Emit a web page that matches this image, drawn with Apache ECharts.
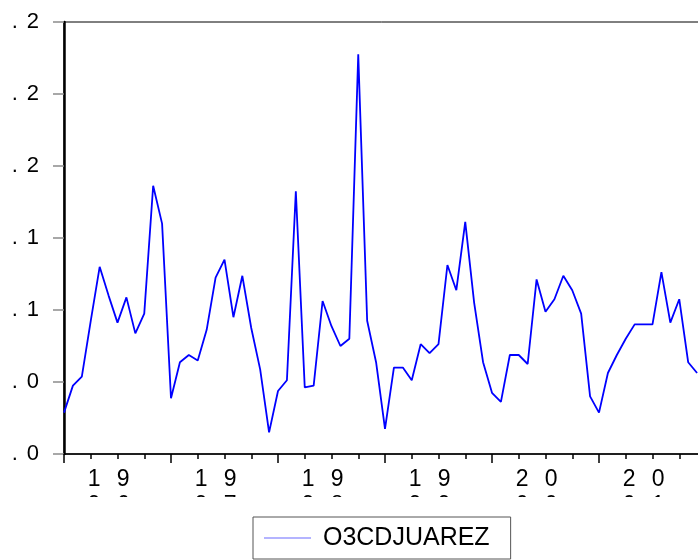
<!DOCTYPE html>
<html>
<head>
<meta charset="utf-8">
<script src="https://cdn.jsdelivr.net/npm/echarts@6/dist/echarts.min.js"></script>
<style>
  html, body { margin: 0; padding: 0; background: #fff; }
  #chart { width: 698px; height: 560px; }
</style>
</head>
<body>
<div id="chart"></div>
<script>
// monthly series, Jan 1996 .. Dec 2001
var years = ['1996', '1997', '1998', '1999', '2000', '2001', '2002'];
var seriesName = 'O3CDJUAREZ';
var o3Values = [
  0.063, 0.078, 0.083, 0.114, 0.144, 0.128, 0.113, 0.127, 0.107, 0.118, 0.189, 0.168,
  0.071, 0.091, 0.095, 0.092, 0.109, 0.138, 0.148, 0.116, 0.139, 0.110, 0.087, 0.052,
  0.075, 0.081, 0.186, 0.077, 0.078, 0.125, 0.111, 0.100, 0.104, 0.262, 0.114, 0.091,
  0.054, 0.088, 0.088, 0.081, 0.101, 0.096, 0.101, 0.145, 0.131, 0.169, 0.124, 0.091,
  0.074, 0.069, 0.095, 0.095, 0.090, 0.137, 0.119, 0.126, 0.139, 0.131, 0.118, 0.072,
  0.063, 0.085, 0.095, 0.104, 0.112, 0.112, 0.112, 0.141, 0.113, 0.126, 0.091, 0.085
];
// tick labels as they show in the picture (second line is cut off)
var xTickLabels = [
  '1\u2002\u20099\n9\u2002\u20096',
  '1\u2002\u20099\n9\u2002\u20097',
  '1\u2002\u20099\n9\u2002\u20098',
  '1\u2002\u20099\n9\u2002\u20099',
  '2\u2002\u20090\n0\u2002\u20090',
  '2\u2002\u20090\n0\u2002\u20091'
];
var yTickLabels = ['.\u2009\u20090', '.\u2009\u20090', '.\u2009\u20091', '.\u2009\u20091', '.\u2009\u20092', '.\u2009\u20092', '.\u2009\u20092'];

// category list: every month, plus Jan of the last year as the axis end
var months = [];
years.forEach(function (y, k) {
  var n = k === years.length - 1 ? 1 : 12;
  for (var m = 1; m <= n; m++) {
    months.push(y + '-' + (m < 10 ? '0' + m : m));
  }
});

var font = 'Liberation Sans';
var myChart = echarts.init(document.getElementById('chart'));
myChart.setOption({
  animation: false,
  backgroundColor: '#fff',
  grid: {
    left: 64,
    width: 642, // runs past the right edge, like the source
    top: 22,
    bottom: 106,
    outerBoundsMode: 'none',
    show: true,
    borderColor: '#000',
    borderWidth: 1
  },
  xAxis: [
    {
      type: 'category',
      data: months,
      boundaryGap: false,
      axisLine: { lineStyle: { color: '#000', width: 1.5 } },
      axisTick: {
        interval: function (i) { return i % 12 === 0; },
        length: 9,
        lineStyle: { color: '#000', width: 1.5 }
      },
      axisLabel: {
        interval: function (i) { return i % 12 === 5; },
        formatter: function (v, i) { return xTickLabels[Math.floor(i / 12)]; },
        color: '#000',
        fontFamily: font,
        fontSize: 23,
        lineHeight: 26,
        margin: 13
      },
      splitLine: { show: false }
    },
    {
      // quarter ticks
      type: 'category',
      data: months,
      boundaryGap: false,
      position: 'bottom',
      axisLine: { show: false },
      axisTick: {
        interval: function (i) { return i % 3 === 0; },
        length: 5,
        lineStyle: { color: '#000', width: 1.5 }
      },
      axisLabel: { show: false },
      splitLine: { show: false }
    }
  ],
  yAxis: {
    type: 'value',
    min: 0.04,
    max: 0.28,
    interval: 0.04,
    axisLine: { show: true, lineStyle: { color: '#000', width: 2.5 } },
    axisTick: { show: true, length: 11, lineStyle: { color: '#8c8c8c', width: 1.5 } },
    axisLabel: {
      formatter: function (v, i) { return yTickLabels[i]; },
      color: '#000',
      fontFamily: font,
      fontSize: 22,
      margin: 25
    },
    splitLine: { show: false }
  },
  legend: {
    left: 253,
    top: 517,
    orient: 'horizontal',
    padding: [8, 21, 8, 11],
    borderColor: '#555',
    borderWidth: 1,
    icon: 'rect',
    itemWidth: 47,
    itemHeight: 1,
    itemStyle: { color: '#6b6bff' },
    formatter: function (name) { return ' ' + name; },
    textStyle: { color: '#000', fontFamily: font, fontSize: 25, lineHeight: 26 },
    z: 200
  },
  graphic: [
    {
      // the source graph cuts the year labels after the first line
      type: 'rect',
      z: 100,
      silent: true,
      shape: { x: 0, y: 497, width: 698, height: 19 },
      style: { fill: '#fff' }
    }
  ],
  series: [
    {
      name: seriesName,
      type: 'line',
      data: o3Values,
      symbol: 'none',
      lineStyle: { color: '#0000ff', width: 1.8 },
      itemStyle: { color: '#0000ff' }
    }
  ]
});
</script>
</body>
</html>
